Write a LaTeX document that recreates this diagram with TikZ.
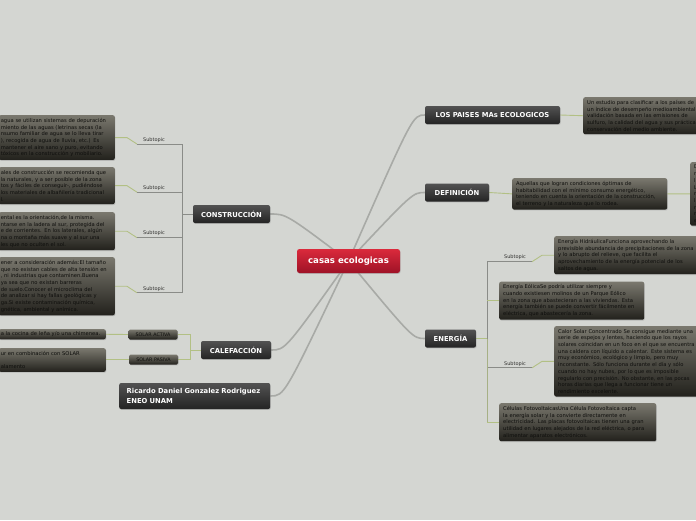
\documentclass[tikz,border=0pt]{standalone}
\usepackage{fontspec}
\setmainfont{DejaVu Sans}
\usetikzlibrary{shadows,calc}
\pgfdeclarelayer{bg}
\pgfdeclarelayer{lines}
\pgfsetlayers{bg,lines,main}

\definecolor{bgc}{RGB}{212,214,210}
\definecolor{boxtop}{RGB}{122,120,110}
\definecolor{boxbot}{RGB}{34,33,28}
\definecolor{maintop}{RGB}{82,82,82}
\definecolor{mainbot}{RGB}{36,36,36}
\definecolor{redtop}{RGB}{218,42,60}
\definecolor{redbot}{RGB}{158,18,38}
\definecolor{linkgray}{RGB}{168,170,166}
\definecolor{greenl}{RGB}{178,192,132}
\definecolor{brgray}{RGB}{138,140,136}
\definecolor{boxtext}{RGB}{14,14,12}
\definecolor{subtext}{RGB}{50,50,48}

\tikzset{
  shad/.style={drop shadow={opacity=0.35, shadow xshift=0.6pt, shadow yshift=-0.9pt}},
  mainnode/.style={shad, rounded corners=2pt, top color=maintop, bottom color=mainbot,
    text=white, font=\fontsize{6.8}{8}\selectfont\bfseries, inner xsep=5pt, inner ysep=0pt,
    minimum height=18pt},
  centralnode/.style={shad, rounded corners=2.5pt, top color=redtop, bottom color=redbot,
    text=white, font=\fontsize{8.6}{10}\selectfont\bfseries, minimum width=103pt, minimum height=24pt},
  textbox/.style={shad, rounded corners=2pt, top color=boxtop, bottom color=boxbot,
    text=boxtext, font=\fontsize{5.2}{6.7}\selectfont, align=left, inner xsep=2pt, inner ysep=3pt},
  smallbox/.style={shad, rounded corners=1.5pt, top color=boxtop, bottom color=boxbot,
    text=boxtext, font=\fontsize{4.8}{6}\selectfont, inner sep=0pt, minimum width=49pt, minimum height=10pt},
  sublabel/.style={text=subtext, font=\fontsize{5}{6}\selectfont, inner sep=1.5pt},
  conn/.style={draw=linkgray, line width=1.6pt},
  gline/.style={draw=greenl, line width=0.9pt},
  bline/.style={draw=brgray, line width=0.9pt}
}

\begin{document}
\begin{tikzpicture}[x=1pt,y=-1pt]
\useasboundingbox (0,0) rectangle (696,520);
\begin{pgfonlayer}{bg}
  \fill[bgc] (0,0) rectangle (696,520);
\end{pgfonlayer}
\clip (0,0) rectangle (696,520);

% central and main nodes
\node[centralnode] (c) at (348.5,261) {casas ecologicas};
\node[mainnode, minimum width=77pt] (con) at (231.5,214) {CONSTRUCCIÓN};
\node[mainnode, minimum width=70pt] (cal) at (236,350) {CALEFACCIÓN};
\node[mainnode, anchor=west, align=left, text width=136pt, inner xsep=7.5pt, minimum height=26pt,
  font=\fontsize{6.8}{9.5}\selectfont\bfseries] (ric) at (119,396) {Ricardo Daniel Gonzalez Rodriguez\\ENEO UNAM};
\node[mainnode, minimum width=135pt] (pai) at (492.5,115) {LOS PAISES MAs ECOLOGICOS};
\node[mainnode, minimum width=64pt] (def) at (457,192.5) {DEFINICIÓN};
\node[mainnode, minimum width=51pt] (ene) at (450.5,338.5) {ENERGÍA};

% left text boxes (construccion)
\node[textbox, anchor=north east, text width=112pt] (b1) at (115,115) {%
agua se utilizan sistemas de depuración\\
miento de las aguas (letrinas secas (la\\
nsumo familiar de agua se lo lleva tirar\\
), recogida de agua de lluvia, etc.) Es\\
mantener el aire sano y puro, evitando\\
tóxicos en la construcción y mobiliario.};
\node[textbox, anchor=north east, text width=112pt] (b2) at (115,167) {%
ales de construcción se recomienda que\\
la naturales, y a ser posible de la zona\\
tos y fáciles de conseguir-, pudiéndose\\
los materiales de albañilería tradicional\\
l.};
\node[textbox, anchor=north east, text width=112pt] (b3) at (115,212) {%
ental es la orientación,de la misma.\\
ntarse en la ladera al sur, protegida del\\
e de corrientes. En los laterales, algún\\
na o montaña más suave y al sur una\\
les que no oculten el sol.};
\node[textbox, anchor=north east, text width=112pt] (b4) at (115,257) {%
ener a consideración además:El tamaño\\
que no existan cables de alta tensión en\\
, ni industrias que contaminen.Buena\\
ya sea que no existan barreras\\
de suelo.Conocer el microclima del\\
de analizar si hay fallas geológicas y\\
ga.Si existe contaminación química,\\
gnética, ambiental y anímica.};

% calefaccion
\node[smallbox] (sa) at (153,334.5) {SOLAR ACTIVA};
\node[smallbox] (sp) at (153.5,359.5) {SOLAR PASIVA};
\node[textbox, anchor=north east, text width=103pt, inner ysep=2.5pt] (ba) at (106,329) {%
a la cocina de leña y/o una chimenea.};
\node[textbox, anchor=north east, text width=103pt] (bb) at (106,348) {%
ur en combinación con SOLAR\\ \mbox{}\\ alamento};

% right side boxes
\node[textbox, anchor=north west, text width=150pt, inner xsep=4pt] (pb) at (583,97) {%
Un estudio para clasificar a los países de\\
un índice de desempeño medioambiental\\
validación basada en las emisiones de\\
sulfuro, la calidad del agua y sus prácticas\\
conservación del medio ambiente.};
\node[textbox, anchor=north west, text width=147pt, inner xsep=4pt] (db) at (512,178) {%
Aquellas que logran condiciones óptimas de\\
habitabilidad con el mínimo consumo energético,\\
teniendo en cuenta la orientación de la construcción,\\
el terreno y la naturaleza que lo rodea.};
\node[textbox, anchor=north west, text width=40pt, inner xsep=4pt] (db2) at (690,162) {%
D\\ r\\ l\\ L\\ r\\ l\\ r\\ r\\ e};
\node[textbox, anchor=north west, text width=150pt, inner xsep=4pt] (hid) at (554,236) {%
Energía HidráulicaFunciona aprovechando la\\
previsible abundancia de precipitaciones de la zona\\
y lo abrupto del relieve, que facilita el\\
aprovechamiento de la energía potencial de los\\
saltos de agua.};
\node[textbox, anchor=north west, text width=137pt, inner xsep=4pt] (eol) at (499,281.5) {%
Energía EólicaSe podría utilizar siempre y\\
cuando existiesen molinos de un Parque Eólico\\
en la zona que abastecieran a las viviendas. Esta\\
energía también se puede convertir fácilmente en\\
eléctrica, que abastecería la zona.};
\node[textbox, anchor=north west, text width=150pt, inner xsep=4pt] (sol) at (554,326) {%
Calor Solar Concentrado Se consigue mediante una\\
serie de espejos y lentes, haciendo que los rayos\\
solares coincidan en un foco en el que se encuentra\\
una caldera con líquido a calentar. Este sistema es\\
muy económico, ecológico y limpio, pero muy\\
inconstante. Sólo funciona durante el día y sólo\\
cuando no hay nubes, por lo que es imposible\\
regularlo con precisión. No obstante, en las pocas\\
horas diarias que llega a funcionar tiene un\\
rendimiento excelente.};
\node[textbox, anchor=north west, text width=149pt, inner xsep=4pt] (cel) at (499,403) {%
Células FotovoltaicasUna Célula Fotovoltaica capta\\
la energía solar y la convierte directamente en\\
electricidad. Las placas fotovoltaicas tienen una gran\\
utilidad en lugares alejados de la red eléctrica, o para\\
alimentar aparatos electrónicos.};

% connectors
\coordinate (cb) at (182,214);
\coordinate (kb) at (190.5,350);
\coordinate (eb) at (487,338.5);
\begin{pgfonlayer}{lines}
  \draw[conn] (c.center) .. controls ($(con.east)+(16,0)$) .. (con.east);
  \draw[conn] (c.center) .. controls ($(cal.east)+(14,0)$) .. (cal.east);
  \draw[conn] (c.center) .. controls ($(ric.east)+(14,0)$) .. (ric.east);
  \draw[conn] (c.center) .. controls ($(pai.west)+(-12,0)$) .. (pai.west);
  \draw[conn] (c.center) .. controls ($(def.west)+(-12,0)$) .. (def.west);
  \draw[conn] (c.center) .. controls ($(ene.west)+(-12,0)$) .. (ene.west);

  % construccion bracket
  \draw[gline] (b1.east) -- ++(12,0) -- ++(10,6.5) coordinate (u1);
  \draw[gline] (b2.east) -- ++(12,0) -- ++(10,6.5) coordinate (u2);
  \draw[gline] (b3.east) -- ++(12,0) -- ++(10,6.5) coordinate (u3);
  \draw[gline] (b4.east) -- ++(12,0) -- ++(10,6.5) coordinate (u4);
  \draw[bline] (u1) -| (cb);
  \draw[bline] (u4) -| (cb);
  \draw[bline] (u2) -- (u2 -| cb);
  \draw[bline] (u3) -- (u3 -| cb);
  \draw[bline] (cb) -- (con.west);

  % calefaccion
  \draw[gline] (ba.east) -- (sa.west);
  \draw[gline] (bb.east |- sp.west) -- (sp.west);
  \draw[gline] (sa.east) -| (kb) |- (sp.east);
  \draw[gline] (kb) -- (cal.west);

  % right side
  \draw[gline] (pai.east) -- (pb.west);
  \draw[gline] (def.east) -- (db.west);
  \draw[gline] (db.east) -- (db2.west);

  % energia bracket
  \draw[gline] (ene.east) -- (eb);
  \draw[gline] (hid.west) -- ++(-12,0) -- ++(-10,6.5) coordinate (v1);
  \draw[gline] (sol.west) -- ++(-12,0) -- ++(-10,6.5) coordinate (v2);
  \draw[bline] (v1) -- (v1 -| eb);
  \draw[bline] (v2) -- (v2 -| eb);
  \draw[bline] (v1 -| eb) -- (eb);
  \draw[draw=greenl!70!brgray, line width=0.9pt] (eb) -- (eb |- cel.west);
  \draw[gline] (eol.west -| eb) -- (eol.west);
  \draw[gline] (cel.west -| eb) -- (cel.west);
\end{pgfonlayer}

% subtopic labels
\node[sublabel, anchor=south] (s1) at ($(u1)+(17,0)$) {Subtopic};
\node[sublabel, anchor=south] (s2) at ($(u2)+(17,0)$) {Subtopic};
\node[sublabel, anchor=south] (s3) at ($(u3)+(17,0)$) {Subtopic};
\node[sublabel, anchor=south] (s4) at ($(u4)+(17,0)$) {Subtopic};
\node[sublabel, anchor=south] (s5) at ($(v1)+(-17,0)$) {Subtopic};
\node[sublabel, anchor=south] (s6) at ($(v2)+(-17,0)$) {Subtopic};
\end{tikzpicture}
\end{document}
